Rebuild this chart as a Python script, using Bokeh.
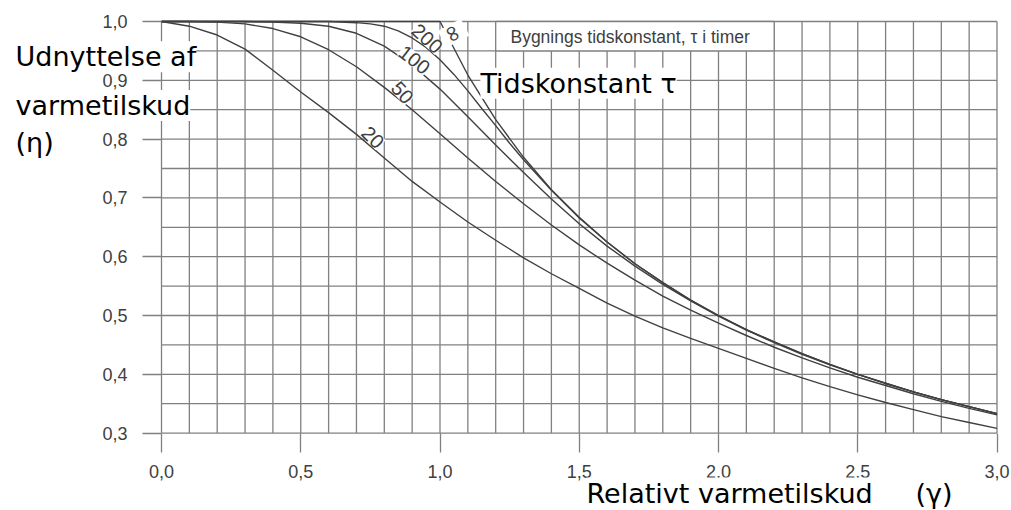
from bokeh.plotting import figure
from bokeh.models import FixedTicker, Label, Range1d
from bokeh.embed import file_html
from bokeh.resources import INLINE

# ---- data ----
gamma = [0.0, 0.1, 0.2, 0.3, 0.4, 0.5, 0.6, 0.7, 0.8, 0.9, 1.0,
         1.1, 1.2, 1.3, 1.4, 1.5, 1.6, 1.7, 1.8, 1.9, 2.0,
         2.1, 2.2, 2.3, 2.4, 2.5, 2.6, 2.7, 2.8, 2.9, 3.0]

eta_20 = [1.000, 0.992, 0.977, 0.953, 0.917, 0.880, 0.845, 0.808, 0.768, 0.728, 0.693,
          0.659, 0.628, 0.598, 0.571, 0.546, 0.521, 0.499, 0.479, 0.461, 0.444,
          0.427, 0.410, 0.394, 0.379, 0.365, 0.352, 0.340, 0.328, 0.318, 0.308]

eta_50 = [1.000, 1.000, 0.999, 0.996, 0.988, 0.974, 0.952, 0.923, 0.888, 0.850, 0.809,
          0.768, 0.728, 0.690, 0.654, 0.620, 0.589, 0.560, 0.533, 0.509, 0.487,
          0.466, 0.446, 0.428, 0.411, 0.395, 0.381, 0.367, 0.354, 0.342, 0.331]

eta_100 = [1.000, 1.000, 1.000, 1.000, 0.999, 0.997, 0.992, 0.980, 0.958, 0.926, 0.885,
           0.838, 0.790, 0.743, 0.698, 0.656, 0.618, 0.584, 0.553, 0.525, 0.499,
           0.475, 0.454, 0.434, 0.416, 0.400, 0.384, 0.370, 0.357, 0.345, 0.333]

gamma_200 = [0.0, 0.1, 0.2, 0.3, 0.4, 0.5, 0.6, 0.7, 0.75, 0.8, 0.85, 0.9, 0.95, 1.0,
             1.05, 1.1, 1.15, 1.2, 1.25, 1.3, 1.4, 1.5, 1.6, 1.7, 1.8, 1.9, 2.0,
             2.1, 2.2, 2.3, 2.4, 2.5, 2.6, 2.7, 2.8, 2.9, 3.0]
eta_200 = [1.000, 1.000, 1.000, 1.000, 1.000, 1.000, 1.000, 0.998, 0.996, 0.992, 0.984, 0.972, 0.956, 0.935,
           0.910, 0.882, 0.852, 0.823, 0.793, 0.765, 0.713, 0.666, 0.625, 0.588, 0.556, 0.526, 0.500,
           0.476, 0.455, 0.435, 0.417, 0.400, 0.385, 0.370, 0.357, 0.345, 0.333]

gamma_inf = [0.0, 1.0, 1.1, 1.2, 1.3, 1.4, 1.5, 1.6, 1.7, 1.8, 1.9, 2.0,
             2.1, 2.2, 2.3, 2.4, 2.5, 2.6, 2.7, 2.8, 2.9, 3.0]
eta_inf = [1.000, 1.000, 0.909, 0.833, 0.769, 0.714, 0.667, 0.625, 0.588, 0.556, 0.526, 0.500,
           0.476, 0.455, 0.435, 0.417, 0.400, 0.385, 0.370, 0.357, 0.345, 0.333]

curve_names = ["20", "50", "100", "200", "\u221e"]

x_ticks = [0.0, 0.5, 1.0, 1.5, 2.0, 2.5, 3.0]
x_tick_labels = ["0,0", "0,5", "1,0", "1,5", "2,0", "2,5", "3,0"]
y_ticks = [0.3, 0.4, 0.5, 0.6, 0.7, 0.8, 0.9, 1.0]
y_tick_labels = ["0,3", "0,4", "0,5", "0,6", "0,7", "0,8", "0,9", "1,0"]

X_MIN, X_MAX = 0.0, 3.0
Y_MIN, Y_MAX = 0.3, 1.0

GRID = "#808080"
INK = "#404040"

# The frame fills the canvas so that the free texts outside the grid are not clipped;
# the axes are pinned to the grid's edges with fixed_location.
W, H = 1010, 510
PX_X = 278.5   # pixels per unit of gamma
PX_Y = 588.0   # pixels per unit of eta
x0 = X_MIN - 161 / PX_X
y1 = Y_MAX + 21 / PX_Y
p = figure(width=W, height=H,
           x_range=Range1d(x0, x0 + W / PX_X), y_range=Range1d(y1 - H / PX_Y, y1),
           output_backend="svg", toolbar_location=None, min_border=0)
p.outline_line_color = None
p.background_fill_color = "white"
p.xgrid.visible = False
p.ygrid.visible = False

# grid lines (every 0.1 in gamma, every 0.05 in eta), limited to the chart area
gx = [round(X_MIN + i * 0.1, 2) for i in range(31)]
gy = [round(Y_MIN + i * 0.05, 3) for i in range(15)]
p.segment(x0=gx, y0=[Y_MIN] * len(gx), x1=gx, y1=[Y_MAX] * len(gx), line_color=GRID, line_width=1.3)
p.segment(x0=[X_MIN] * len(gy), y0=gy, x1=[X_MAX] * len(gy), y1=gy, line_color=GRID, line_width=1.3)

# axes
p.xaxis.fixed_location = Y_MIN
p.yaxis.fixed_location = X_MIN
p.xaxis.bounds = (X_MIN, X_MAX)
p.yaxis.bounds = (Y_MIN, Y_MAX)
for ax, ticks, labels, standoff in ((p.xaxis, x_ticks, x_tick_labels, 13),
                                     (p.yaxis, y_ticks, y_tick_labels, 15)):
    ax.ticker = FixedTicker(ticks=ticks)
    ax.major_label_overrides = {t: l for t, l in zip(ticks, labels)}
    ax.axis_line_color = None
    ax.major_tick_line_color = GRID
    ax.major_tick_line_width = 1.3
    ax.major_tick_out = 19
    ax.major_tick_in = 0
    ax.minor_tick_line_color = None
    ax.major_label_text_font = "Liberation Sans"
    ax.major_label_text_font_size = "18px"
    ax.major_label_text_color = INK
    ax.major_label_standoff = standoff

# legend box (white, covers the grid)
p.quad(left=[1.2], right=[2.2], bottom=[0.95], top=[1.0], fill_color="white",
       line_color=GRID, line_width=1.3)

# curves
for xs, ys in ((gamma, eta_20), (gamma, eta_50), (gamma, eta_100), (gamma_200, eta_200), (gamma_inf, eta_inf)):
    p.line(xs, ys, line_color=INK, line_width=1.4)

# curve labels
curve_label_pos = [(0.759, 0.803, -45), (0.865, 0.879, -48), (0.908, 0.935, -38), (0.954, 0.971, -42), (1.049, 0.980, -62)]
for name, (lx, ly, ang) in zip(curve_names, curve_label_pos):
    is_inf = name == "\u221e"
    p.add_layout(Label(x=lx, y=ly, text=name, angle=ang, angle_units="deg",
                       text_align="center", text_baseline="middle",
                       text_font="DejaVu Sans" if is_inf else "Liberation Sans",
                       text_font_size="23px" if is_inf else "20px", text_color=INK,
                       background_fill_color="white"))

# legend box text
p.add_layout(Label(x=1.253, y=0.9735, text="Bygnings tidskonstant, \u03c4 i timer",
                   text_font="Liberation Sans", text_font_size="17.5px", text_color=INK,
                   text_baseline="alphabetic"))

# big annotation texts
big = [("Udnyttelse af", -0.524, 0.940), ("varmetilskud", -0.524, 0.857), ("(\u03b7)", -0.524, 0.794),
       ("Tidskonstant \u03c4", 1.145, 0.895),
       ("Relativt varmetilskud", 1.526, 0.198), ("(\u03b3)", 2.707, 0.198)]
for t, lx, ly in big:
    p.add_layout(Label(x=lx, y=ly, text=t, text_font="DejaVu Sans", text_font_size="27px",
                       text_color="#000000", text_baseline="alphabetic", text_align="left",
                       background_fill_color="white"))

open("out.html", "w").write(file_html(p, INLINE))
